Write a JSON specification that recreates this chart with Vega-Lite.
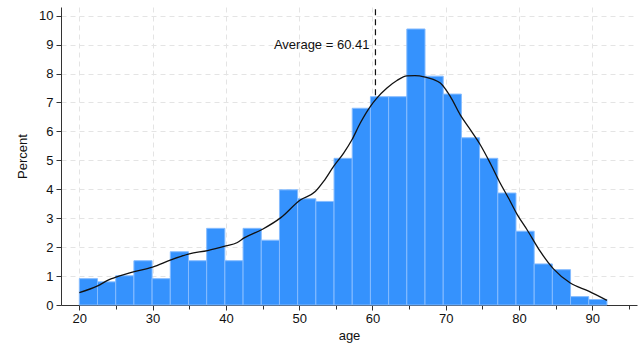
{
  "$schema": "https://vega.github.io/schema/vega-lite/v6.json",
  "width": 576,
  "height": 298,
  "autosize": "none",
  "padding": {"left": 61, "top": 7, "right": 3, "bottom": 42},
  "config": {
    "view": {"stroke": null},
    "font": "Liberation Sans",
    "axis": {"labelFont": "Liberation Sans", "titleFont": "Liberation Sans", "labelColor": "#111", "titleColor": "#111", "titleFontWeight": "normal", "labelFontSize": 13, "titleFontSize": 13, "domainColor": "#333", "tickColor": "#333", "gridColor": "#e4e4e4", "gridDash": [5, 4], "labelOverlap": false},
    "axisX": {
      "values": [20, 25, 30, 35, 40, 45, 50, 55, 60, 65, 70, 75, 80, 85, 90, 95],
      "labelExpr": "datum.value % 10 === 0 ? datum.label : ''",
      "gridOpacity": {"condition": {"test": "datum.value % 10 !== 0", "value": 0}, "value": 1},
      "tickSize": {"condition": {"test": "datum.value % 10 !== 0", "value": 4}, "value": 5},
      "labelPadding": 2,
      "titlePadding": 4
    },
    "axisY": {"values": [0, 1, 2, 3, 4, 5, 6, 7, 8, 9, 10], "tickSize": 5, "labelPadding": 3, "titlePadding": 9}
  },
  "datasets": {
    "bins": [
      {"start": 20, "end": 22.483, "pct": 0.91},
      {"start": 22.483, "end": 24.966, "pct": 0.80},
      {"start": 24.966, "end": 27.448, "pct": 1.01},
      {"start": 27.448, "end": 29.931, "pct": 1.53},
      {"start": 29.931, "end": 32.414, "pct": 0.91},
      {"start": 32.414, "end": 34.897, "pct": 1.84},
      {"start": 34.897, "end": 37.379, "pct": 1.53},
      {"start": 37.379, "end": 39.862, "pct": 2.65},
      {"start": 39.862, "end": 42.345, "pct": 1.53},
      {"start": 42.345, "end": 44.828, "pct": 2.65},
      {"start": 44.828, "end": 47.310, "pct": 2.24},
      {"start": 47.310, "end": 49.793, "pct": 3.98},
      {"start": 49.793, "end": 52.276, "pct": 3.67},
      {"start": 52.276, "end": 54.759, "pct": 3.58},
      {"start": 54.759, "end": 57.241, "pct": 5.07},
      {"start": 57.241, "end": 59.724, "pct": 6.80},
      {"start": 59.724, "end": 62.207, "pct": 7.20},
      {"start": 62.207, "end": 64.690, "pct": 7.20},
      {"start": 64.690, "end": 67.172, "pct": 9.54},
      {"start": 67.172, "end": 69.655, "pct": 7.91},
      {"start": 69.655, "end": 72.138, "pct": 7.29},
      {"start": 72.138, "end": 74.621, "pct": 5.78},
      {"start": 74.621, "end": 77.103, "pct": 5.07},
      {"start": 77.103, "end": 79.586, "pct": 3.87},
      {"start": 79.586, "end": 82.069, "pct": 2.55},
      {"start": 82.069, "end": 84.552, "pct": 1.42},
      {"start": 84.552, "end": 87.034, "pct": 1.22},
      {"start": 87.034, "end": 89.517, "pct": 0.29},
      {"start": 89.517, "end": 92, "pct": 0.19}
    ],
    "kde": [
      {"age": 20, "d": 0.43}, {"age": 22.5, "d": 0.66}, {"age": 24.0, "d": 0.87},
      {"age": 25, "d": 0.96}, {"age": 27.5, "d": 1.15}, {"age": 30, "d": 1.31},
      {"age": 32.5, "d": 1.56}, {"age": 35, "d": 1.77}, {"age": 37.5, "d": 1.88},
      {"age": 40, "d": 2.04}, {"age": 41.5, "d": 2.15}, {"age": 42.5, "d": 2.32},
      {"age": 45, "d": 2.62}, {"age": 47.5, "d": 3.02}, {"age": 50.15, "d": 3.63},
      {"age": 52.2, "d": 3.92}, {"age": 53.33, "d": 4.27}, {"age": 54.7, "d": 4.79},
      {"age": 56.07, "d": 5.25}, {"age": 57.2, "d": 5.71}, {"age": 58.34, "d": 6.29},
      {"age": 59.7, "d": 6.86}, {"age": 60.6, "d": 7.15}, {"age": 61.98, "d": 7.5},
      {"age": 63.34, "d": 7.76}, {"age": 64.7, "d": 7.92}, {"age": 65.8, "d": 7.93},
      {"age": 67.2, "d": 7.88}, {"age": 68.3, "d": 7.8}, {"age": 69.26, "d": 7.67},
      {"age": 70.62, "d": 7.21}, {"age": 71.98, "d": 6.57}, {"age": 73.35, "d": 6.06},
      {"age": 74.71, "d": 5.54}, {"age": 76.08, "d": 4.9}, {"age": 77.44, "d": 4.21},
      {"age": 78.58, "d": 3.69}, {"age": 79.7, "d": 3.15}, {"age": 81.1, "d": 2.6},
      {"age": 82.9, "d": 1.85}, {"age": 84.7, "d": 1.25}, {"age": 87.0, "d": 0.76},
      {"age": 89.5, "d": 0.48}, {"age": 92.0, "d": 0.16}
    ],
    "mean": [{"age": 60.41, "lo": 7.25, "hi": 10.3, "ty": 9.0, "label": "Average = 60.41"}]
  },
  "layer": [
    {
      "data": {"name": "bins"},
      "mark": {"type": "rect", "color": "#3592fd", "stroke": "#86bcff", "strokeWidth": 1},
      "encoding": {
        "x": {
          "field": "start", "type": "quantitative", "title": "age",
          "scale": {"domain": [17.5, 96.1], "nice": false, "zero": false}
        },
        "x2": {"field": "end"},
        "y": {
          "field": "pct", "type": "quantitative", "title": "Percent",
          "scale": {"domain": [0, 10.3], "nice": false}
        },
        "y2": {"datum": 0}
      }
    },
    {
      "data": {"name": "kde"},
      "mark": {"type": "line", "color": "#111", "strokeWidth": 1.3, "interpolate": "monotone"},
      "encoding": {
        "x": {"field": "age", "type": "quantitative", "title": "age"},
        "y": {"field": "d", "type": "quantitative", "title": "Percent"}
      }
    },
    {
      "data": {"name": "mean"},
      "mark": {"type": "rule", "color": "#111", "strokeWidth": 1.2, "strokeDash": [6, 4]},
      "encoding": {
        "x": {"field": "age", "type": "quantitative", "title": "age"},
        "y": {"field": "lo", "type": "quantitative", "title": "Percent"},
        "y2": {"field": "hi"}
      }
    },
    {
      "data": {"name": "mean"},
      "mark": {"type": "text", "align": "right", "baseline": "middle", "dx": -6, "fontSize": 13, "font": "Liberation Sans", "color": "#111"},
      "encoding": {
        "x": {"field": "age", "type": "quantitative", "title": "age"},
        "y": {"field": "ty", "type": "quantitative", "title": "Percent"},
        "text": {"field": "label"}
      }
    }
  ]
}
